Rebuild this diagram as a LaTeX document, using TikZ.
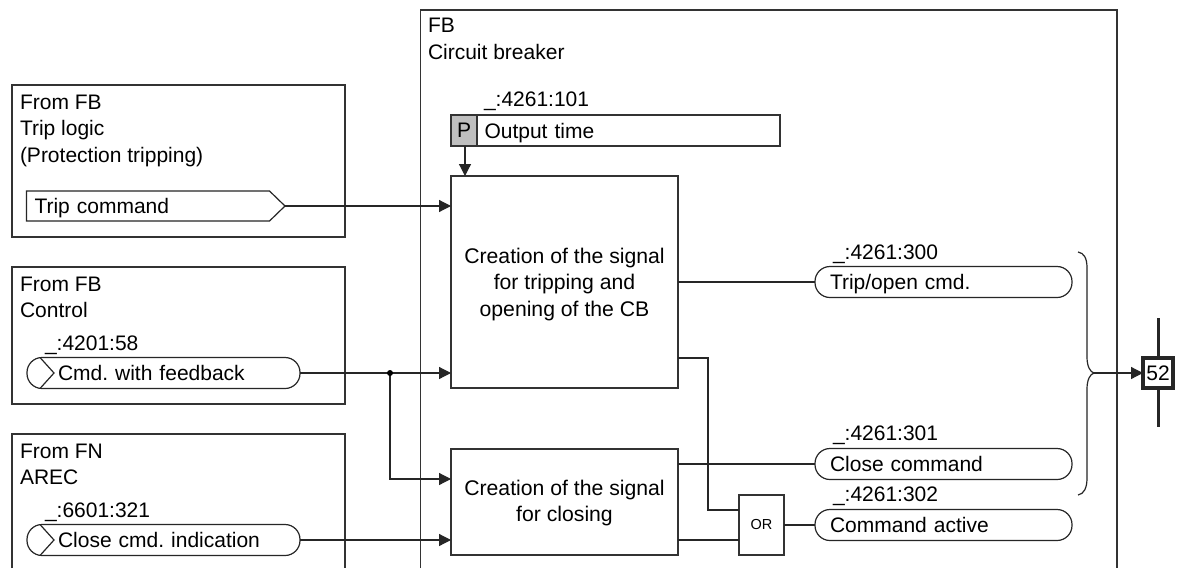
\documentclass[tikz,border=0pt]{standalone}
\usepackage{fontspec}
\setmainfont{Liberation Sans}
\usetikzlibrary{arrows.meta,calc}
\frenchspacing
\tikzset{
  x=1pt,y=-1pt,
  wire/.style={line width=1.2pt,draw=black!85},
  arr/.style={wire,-{Triangle[length=12pt,width=12pt]}},
  frame/.style={draw=black!80,line width=1.2pt,inner sep=0pt,outer sep=0pt},
  txt/.style={inner sep=0pt,outer sep=0pt,anchor=west,align=left,text=black,font=\fontsize{21}{26.3}\selectfont},
  single/.style={txt,text height=18pt,text depth=3pt},
  pillbase/.style={draw=black!85,line width=1.2pt,rounded corners=15pt,minimum height=31pt,inner ysep=0pt,outer sep=0pt,anchor=west,align=left,text=black,font=\fontsize{21}{26.3}\selectfont,text height=18pt,text depth=3pt},
  pillr/.style={pillbase,text width=227pt,inner xsep=15pt},
  pilll/.style={pillbase,text width=211pt,inner xsep=31pt},
  block/.style={frame,anchor=north west,align=center,text=black,font=\fontsize{21.2}{26.3}\selectfont},
}
\begin{document}
\begin{tikzpicture}
\useasboundingbox (0,0) rectangle (1181,568);
\fill[white] (0,0) rectangle (1181,568);
% outer frames
\node[frame,anchor=north west,minimum width=333pt,minimum height=152pt] (fbtrip) at (12,85) {};
\node[frame,anchor=north west,minimum width=333pt,minimum height=137pt] (fbctrl) at (12,267) {};
\draw[frame] (12,568) -- (12,434) -- (345,434) -- (345,568);
\draw[frame] (420.5,568) -- (420.5,10) -- (1117,10) -- (1117,568);
\node[txt] (t1) at (428,25) {FB};
\node[txt] (t2) at (428,52) {Circuit breaker};
\node[txt,anchor=north west] (t3) at (20,95) {From FB\\Trip logic\\(Protection tripping)};
\node[txt,anchor=north west] (t4) at (20,277) {From FB\\Control};
\node[txt,anchor=north west] (t5) at (20,444) {From FN\\AREC};
% inputs
\node[txt,minimum width=243pt,minimum height=30pt,inner xsep=8pt,text height=18pt,text depth=3pt,text width=227pt] (trip) at (26.5,206) {Trip command};
\coordinate (triptip) at (285,206);
\draw[wire,draw=black!85] (trip.north west) -- (trip.north east) -- (triptip) -- (trip.south east) -- (trip.south west) -- cycle;
\node[single] (l1) at (45,343) {\_:4201:58};
\node[pilll] (cmd) at (27,373) {Cmd. with feedback};
\draw[wire] ([xshift=13pt]cmd.north west) -- ([xshift=27pt]cmd.west) -- ([xshift=13pt]cmd.south west);
\node[single] (l2) at (45,510) {\_:6601:321};
\node[pilll] (cls) at (27,540) {Close cmd. indication};
\draw[wire] ([xshift=13pt]cls.north west) -- ([xshift=27pt]cls.west) -- ([xshift=13pt]cls.south west);
% parameter
\node[single] (l3) at (484,99) {\_:4261:101};
\node[frame,anchor=north west,fill=black!25,minimum width=26pt,minimum height=31pt,font=\fontsize{21}{26}\selectfont] (p) at (451,115) {P};
\node[frame,anchor=north west,minimum width=303pt,minimum height=31pt,text width=295pt,inner xsep=4pt,align=left,font=\fontsize{21}{26}\selectfont,text height=18pt,text depth=3pt] (ot) at (477,115) {\,Output time};
% blocks
\node[block,minimum width=227pt,minimum height=212pt] (b1) at (451,176) {\rule{0pt}{20pt}Creation of the signal\\for tripping and\\opening of the CB};
\node[block,minimum width=227pt,minimum height=106pt] (b2) at (451,449) {\rule{0pt}{18pt}Creation of the signal\\for closing};
\node[frame,anchor=north west,minimum width=45pt,minimum height=60pt,font=\fontsize{14.5}{17}\selectfont] (or) at (739,495) {OR};
% outputs
\node[single] (l4) at (833,252) {\_:4261:300};
\node[pillr] (o1) at (815,282) {Trip/open cmd.};
\node[single] (l5) at (833,433) {\_:4261:301};
\node[pillr] (o2) at (815,464) {Close command};
\node[single] (l6) at (833,494) {\_:4261:302};
\node[pillr] (o3) at (815,525) {Command active};
% breaker
\coordinate (bt) at (1158,318);
\coordinate (bb) at (1158,427);
\draw[line width=3pt,draw=black!85] (bt) -- (bb);
\node[draw=black!85,line width=3.2pt,fill=white,minimum width=30pt,minimum height=30pt,inner sep=0pt,outer sep=0pt,font=\fontsize{21}{26}\selectfont] (cb) at (1158,373) {52};
% connectors
\draw[arr] (465,146) -- (465,176);
\draw[arr] (triptip) -- (trip.east -| b1.west);
\coordinate (dot) at (390,373);
\draw[arr] (cmd.east) -- (cmd.east -| b1.west);
\draw[arr] (dot) |- (b2.west |- 0,479);
\fill[black] (dot) circle (3pt);
\draw[arr] (cls.east) -- (cls.east -| b2.west);
\draw[wire] (b1.east |- o1.west) -- (o1.west);
\draw[wire] (b2.east |- o2.west) -- (o2.west);
\draw[wire] (b1.east |- 0,358) -| (708,510) -- (or.west |- 0,510);
\draw[wire] (b2.east |- 0,540) -- (or.west |- 0,540);
\draw[wire] (or.east |- o3.west) -- (o3.west);
% brace
\coordinate (br) at (1094,373);
\draw[wire] (1078,252) .. controls (1084,253) and (1087,258) .. (1087,268) -- (1087,357) .. controls (1087,366) and (1090,372) .. (br) .. controls (1090,374) and (1087,380) .. (1087,389) -- (1087,478) .. controls (1087,488) and (1084,494) .. (1078,495);
\draw[arr] (br) -- (cb.west);
\end{tikzpicture}
\end{document}
